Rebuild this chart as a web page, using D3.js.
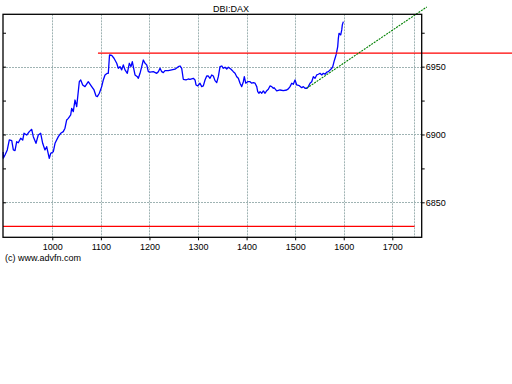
<!DOCTYPE html>
<html>
<head>
<meta charset="utf-8">
<script src="https://cdn.jsdelivr.net/npm/d3@7"></script>
<style>
  html, body { margin: 0; padding: 0; background: #fff; }
  svg { display: block; font-family: "Liberation Sans", Arial, sans-serif; }
</style>
</head>
<body>
<div id="chart"></div>
<script>
// intraday ticks, x in hhmm-style units (1000 = 10:00)
const times = [899, 899.1, 902.6, 907.3, 911.5, 916.5, 919.8, 923.2, 926.7, 930, 934.9, 939.1, 941.7, 947.3, 952.6, 957.6,
  960.9, 966.4, 971.1, 976.1, 980.2, 984.9, 988.4, 993.8, 996.7, 1002.1, 1005.6, 1012.4, 1017.3, 1022.6, 1026.1,
  1029.6, 1032.9, 1037.9, 1039.9, 1043.2, 1046.7, 1050.2, 1055.6, 1058.5, 1062.6, 1067.3, 1074.1, 1081.1, 1085.9,
  1090, 1092.7, 1096.8, 1101.7, 1105, 1108.5, 1113.2, 1115.3, 1117.8, 1122.3, 1127, 1132.6, 1135.9, 1139.4, 1142.9,
  1146.2, 1149.7, 1154.4, 1158.5, 1162, 1164.7, 1166.8, 1170.3, 1175, 1177.1, 1180.6, 1184.1, 1187.4, 1190.9,
  1194.4, 1197.7, 1201.2, 1208, 1215, 1218.3, 1221.8, 1225.3, 1228.5, 1232, 1238.8, 1245.8, 1252.6, 1259.4,
  1262.9, 1266.4, 1269.7, 1275.3, 1280, 1283.5, 1290.3, 1293.8, 1295.9, 1299.4, 1304.1, 1307.6, 1310.9, 1314.4,
  1317.9, 1321.2, 1324.7, 1328.2, 1331.5, 1335, 1338.5, 1341.8, 1345.3, 1348.8, 1352.1, 1355.6, 1359.1, 1362.4,
  1368, 1372.7, 1376.2, 1379.7, 1383, 1386.5, 1390, 1393.3, 1395.3, 1398.2, 1402.3, 1407.1, 1410.6, 1413.9,
  1417.4, 1420.9, 1422.9, 1425.6, 1427.7, 1431.2, 1434.5, 1438, 1441.5, 1444.7, 1448.2, 1451.7, 1455, 1456.5,
  1462, 1468.8, 1475.6, 1482.6, 1485.9, 1489.4, 1492.9, 1496.2, 1499.7, 1503.2, 1508.6, 1513.5, 1516.8, 1520.3,
  1523.8, 1527.1, 1530.6, 1534.1, 1537.4, 1540.9, 1544.4, 1547.7, 1551.2, 1554.7, 1558, 1561.5, 1565, 1568.3,
  1571.8, 1575.3, 1577.4, 1580, 1582.1, 1584.1, 1585.6, 1587.6, 1588.9, 1590.3, 1593.8, 1595.9, 1597.1, 1599.2];

const prices = [6887, 6882.6, 6884.9, 6888.6, 6896, 6895.4, 6888.6, 6888.1, 6894.7, 6893.9, 6897.2, 6895.9, 6900.9, 6899.6, 6902.1, 6903.8,
  6898.4, 6893.5, 6899.6, 6900.9, 6893.5, 6888.6, 6891, 6882.4, 6886.1, 6887.3, 6893.5, 6898.4, 6900.9, 6902.1, 6904.6,
  6910.7, 6911.9, 6914.4, 6919.3, 6916.8, 6925.4, 6920.5, 6938.9, 6940.2, 6936.5, 6935.3, 6938.9, 6935.3, 6932.8,
  6928.4, 6927.9, 6930.4, 6935.3, 6940.2, 6943.9, 6945.1, 6945.1, 6958.6, 6958.3, 6956.2, 6952.5, 6948.8, 6950, 6947.6,
  6951.3, 6947.6, 6945.1, 6952.5, 6950, 6953.7, 6950, 6943.9, 6942.6, 6941.4, 6945.1, 6950, 6954.9, 6952.5,
  6951.3, 6946.3, 6945.9, 6946.3, 6945.1, 6946.3, 6948.8, 6946.3, 6945.6, 6947.1, 6947.1, 6947.6, 6948.1, 6950,
  6950.5, 6948.8, 6940.7, 6940.2, 6940.9, 6940.7, 6941.4, 6940.2, 6936.5, 6935.8, 6937.8, 6935.3, 6935.8, 6940.2,
  6943.1, 6943.1, 6941.4, 6943.9, 6943.1, 6939.7, 6938.2, 6942.6, 6950, 6950.5, 6948.8, 6949.6, 6948.3, 6949.6,
  6948.1, 6946.3, 6945.1, 6942.6, 6941.4, 6937.8, 6935.3, 6938.9, 6942.6, 6937.8, 6938.9, 6938.9, 6937.8, 6938.2,
  6937.8, 6935.3, 6931.6, 6930.4, 6931.6, 6930.4, 6932.1, 6930.4, 6932.3, 6933.3, 6935.8, 6935.3, 6934.1, 6934.5,
  6932.1, 6932.8, 6932.3, 6932.8, 6933.6, 6935.3, 6937.8, 6937, 6940.2, 6936.5, 6936, 6934.5, 6935.3, 6934.1,
  6934.1, 6935.3, 6937.8, 6938.9, 6942.6, 6941.4, 6943.9, 6944.4, 6945.1, 6943.9, 6945.1, 6944.4, 6945.9, 6946.3,
  6947.6, 6948.8, 6950, 6953.7, 6956.2, 6958.6, 6961.1, 6964.8, 6970.9, 6974.6, 6973.4, 6977.1, 6980.8, 6983.2];

const xTicks = [1000, 1100, 1200, 1300, 1400, 1500, 1600, 1700];
const yTicks = [6850, 6900, 6950];
const yMinorTicks = [6850, 6875, 6900, 6925, 6950, 6975];
const sessionEnd = 1745.5;

// drawn studies
const resistance = { level: 6960, from: 1094, to: 1950 };
const support = { level: 6832.3, from: 898.5, to: 1746 };
const trendTimes = [1523.8, 1770.9];
const trendPrices = [6934.1, 6994];

const W = 512, H = 384;
const plot = { left: 3, right: 421.7, top: 14.3, bottom: 237.3 };

const svg = d3.select("#chart").append("svg")
    .attr("width", W).attr("height", H)
    .attr("viewBox", `0 0 ${W} ${H}`);

svg.append("rect").attr("width", W).attr("height", H).attr("fill", "#fff");

const x = d3.scaleLinear().domain([898.5, 1760.5]).range([plot.left, plot.right]);
const y = d3.scaleLinear().domain([6824.2, 6988.6]).range([plot.bottom, plot.top]);

const gridColor = "#9fb3b3";

// grid
svg.append("g").selectAll("line")
    .data(xTicks.concat([sessionEnd]))
    .enter().append("line")
        .attr("x1", d => Math.round(x(d)) + 0.5).attr("x2", d => Math.round(x(d)) + 0.5)
        .attr("y1", plot.top).attr("y2", plot.bottom)
        .attr("stroke", gridColor).attr("stroke-width", 1)
        .attr("stroke-dasharray", "2,1");

svg.append("g").selectAll("line")
    .data(yTicks)
    .enter().append("line")
        .attr("x1", plot.left).attr("x2", plot.right)
        .attr("y1", d => Math.round(y(d)) + 0.5).attr("y2", d => Math.round(y(d)) + 0.5)
        .attr("stroke", gridColor).attr("stroke-width", 1)
        .attr("stroke-dasharray", "2,1");

// support / resistance lines
svg.append("line")
    .attr("x1", x(support.from)).attr("x2", x(support.to))
    .attr("y1", y(support.level)).attr("y2", y(support.level))
    .attr("stroke", "#ff0000").attr("stroke-width", 1.2);

// price line
const line = d3.line().x(d => x(d[0])).y(d => y(d[1]));
svg.append("path")
    .datum(d3.zip(times, prices))
    .attr("d", line)
    .attr("fill", "none")
    .attr("stroke", "#0000ff")
    .attr("stroke-width", 1.3)
    .attr("stroke-linejoin", "round");

svg.append("line")
    .attr("x1", x(resistance.from)).attr("x2", x(resistance.to))
    .attr("y1", y(resistance.level)).attr("y2", y(resistance.level))
    .attr("stroke", "#ff0000").attr("stroke-width", 1.2);

// trend line (dotted green)
svg.append("path")
    .datum(d3.zip(trendTimes, trendPrices))
    .attr("d", line)
    .attr("fill", "none")
    .attr("stroke", "#008000")
    .attr("stroke-width", 1.1)
    .attr("stroke-dasharray", "2,1");

// frame
svg.append("rect")
    .attr("x", plot.left).attr("y", plot.top)
    .attr("width", plot.right - plot.left).attr("height", plot.bottom - plot.top)
    .attr("fill", "none").attr("stroke", "#000").attr("stroke-width", 1.3);

// axes
const font = 9;
const bottomAxis = svg.append("g")
    .attr("transform", `translate(0,${plot.bottom})`)
    .call(d3.axisBottom(x).tickValues(xTicks).tickSize(3).tickPadding(3).tickFormat(d3.format("d")));

const rightAxis = svg.append("g")
    .attr("transform", `translate(${plot.right},0)`)
    .call(d3.axisRight(y).tickValues(yMinorTicks).tickSize(3).tickPadding(1)
        .tickFormat(d => yTicks.includes(d) ? d3.format("d")(d) : ""));

const leftAxis = svg.append("g")
    .attr("transform", `translate(${plot.left},0)`)
    .call(d3.axisRight(y).tickValues(yMinorTicks).tickSize(3).tickFormat(""));

[bottomAxis, rightAxis, leftAxis].forEach(g => {
    g.select(".domain").remove();
    g.selectAll("line").attr("stroke", "#000");
    g.selectAll("text")
        .attr("fill", "#000")
        .style("font-size", font + "px")
        .style("font-family", "'Liberation Sans', Arial, sans-serif");
});

// title and credit
svg.append("text")
    .attr("x", 231).attr("y", 11.5)
    .attr("text-anchor", "middle")
    .style("font-size", font + "px")
    .text("DBI:DAX");

svg.append("text")
    .attr("x", 5).attr("y", 261)
    .style("font-size", font + "px")
    .text("(c) www.advfn.com");
</script>
</body>
</html>
